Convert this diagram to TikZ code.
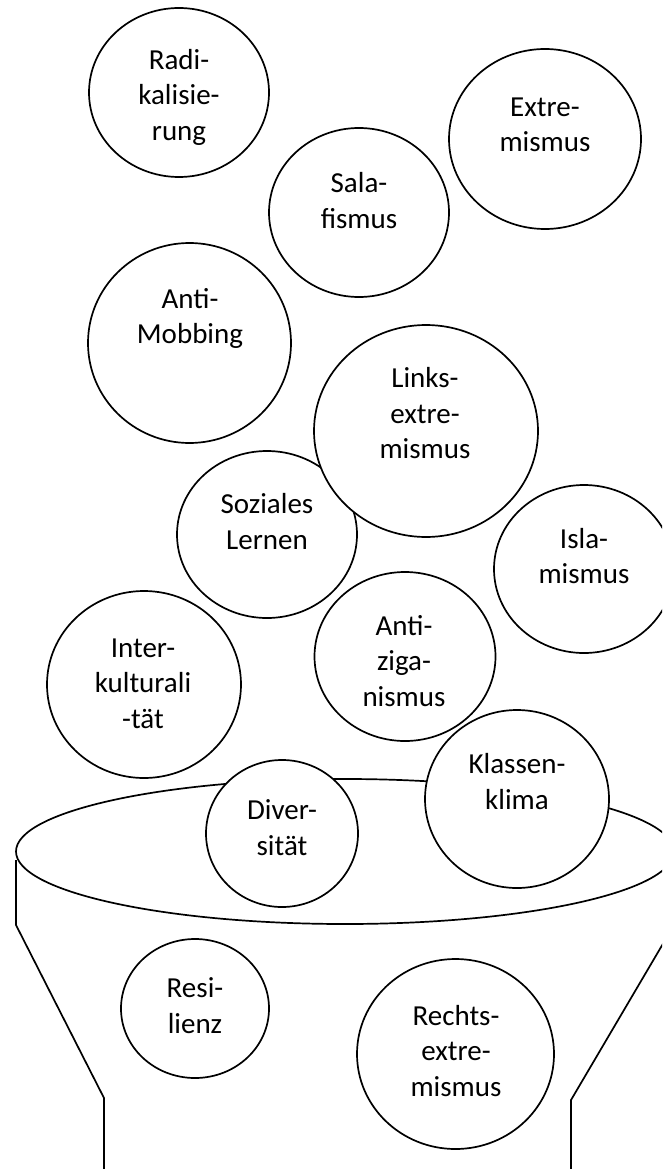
\documentclass[tikz,border=0pt]{standalone}
\usepackage{fontspec}
\setmainfont{Carlito}
\usetikzlibrary{shapes.geometric}
\tikzset{
  bub/.style={ellipse, draw, fill=white, line width=1.7pt, inner sep=0pt},
  lbl/.style={align=center, inner sep=0pt, font=\fontsize{29}{35.5}\selectfont},
  funnelline/.style={line width=1.7pt, line join=miter}
}
\begin{document}
\begin{tikzpicture}[x=1pt, y=-1pt]
\useasboundingbox (0,0) rectangle (662,1169);
\fill[white] (0,0) rectangle (662,1169);
\clip (0,0) rectangle (662,1169);
% funnel
\node[ellipse, draw, line width=1.7pt, inner sep=0pt, minimum width=658pt, minimum height=145pt] (rim) at (345,851.5) {};
\coordinate (lt) at (16,860);
\coordinate (lm) at (16,925);
\coordinate (lb) at (104,1098);
\coordinate (le) at (104,1175);
\coordinate (rt) at (674,860);
\coordinate (rm) at (674,925);
\coordinate (rb) at (571,1100);
\coordinate (re) at (571,1175);
\draw[funnelline] (lt) -- (lm) -- (lb) -- (le);
\draw[funnelline] (rt) -- (rm) -- (rb) -- (re);
% bubbles
\node[bub, minimum width=180pt, minimum height=169pt] (rad) at (179,92.5) {};
\node[lbl] (radt) at (179,97) {Radi-\\kalisie-\\rung};
\node[bub, minimum width=192pt, minimum height=180pt] (ext) at (545,139) {};
\node[lbl] (extt) at (545,125) {Extre-\\mismus};
\node[bub, minimum width=180pt, minimum height=169pt] (sal) at (359,212.5) {};
\node[lbl] (salt) at (359,200.5) {Sala-\\fismus};
\node[bub, minimum width=203pt, minimum height=200pt] (mob) at (189.5,343) {};
\node[lbl] (mobt) at (190,318.5) {Anti-\\Mobbing};
\node[bub, minimum width=180pt, minimum height=167pt] (soz) at (267,534.5) {};
\node[lbl] (sozt) at (267,521.5) {Soziales\\Lernen};
\node[bub, minimum width=224pt, minimum height=212pt] (lin) at (426,431) {};
\node[lbl] (lint) at (425,413.5) {Links-\\extre-\\mismus};
\node[bub, minimum width=180pt, minimum height=168pt] (isl) at (584,569) {};
\node[lbl] (islt) at (584,556) {Isla-\\mismus};
\node[bub, minimum width=181pt, minimum height=169pt] (zig) at (405,656.5) {};
\node[lbl] (zigt) at (404,661) {Anti-\\ziga-\\nismus};
\node[bub, minimum width=194pt, minimum height=187pt] (int) at (144,684.5) {};
\node[lbl] (intt) at (143,683.5) {Inter-\\kulturali\\-tät};
\node[bub, minimum width=184pt, minimum height=178pt] (kla) at (517,799) {};
\node[lbl] (klat) at (517,781.5) {Klassen-\\klima};
\node[bub, minimum width=152pt, minimum height=147pt] (div) at (282,833.5) {};
\node[lbl] (divt) at (282,827.5) {Diver-\\sität};
\node[bub, minimum width=148pt, minimum height=139pt] (res) at (195,1008.5) {};
\node[lbl] (rest) at (195,1005.5) {Resi-\\lienz};
\node[bub, minimum width=197pt, minimum height=190pt] (rec) at (455.5,1054) {};
\node[lbl] (rect) at (456,1051) {Rechts-\\extre-\\mismus};
\end{tikzpicture}
\end{document}
